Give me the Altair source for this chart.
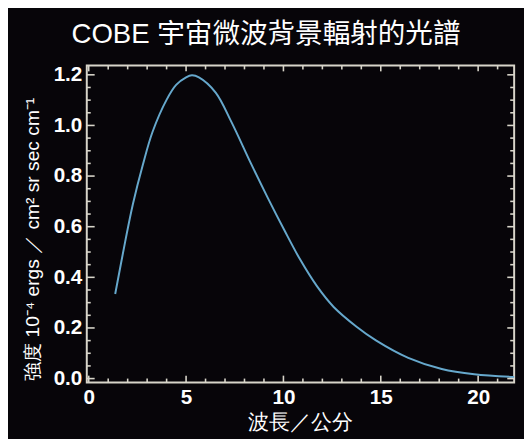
import altair as alt
import pandas as pd

# Values
wavelength = [1.36, 1.87, 2.27, 2.78, 3.28, 3.99, 4.49, 5.0, 5.3, 5.66, 6.52, 7.32,
              8.33, 9.19, 10.05, 10.86, 11.72, 12.58, 13.74, 14.75, 16.41, 18.13,
              19.8, 21.85]
intensity = [0.334, 0.54, 0.69, 0.845, 0.975, 1.10, 1.16, 1.19, 1.198, 1.19, 1.13,
             1.015, 0.85, 0.715, 0.586, 0.47, 0.365, 0.283, 0.206, 0.151, 0.082,
             0.038, 0.017, 0.006]

x_major = [0, 5, 10, 15, 20]
x_minor = [1, 2, 3, 4, 6, 7, 8, 9, 11, 12, 13, 14, 16, 17, 18, 19, 21]
y_major = [0.0, 0.2, 0.4, 0.6, 0.8, 1.0, 1.2]
y_minor = [0.05, 0.1, 0.15, 0.25, 0.3, 0.35, 0.45, 0.5, 0.55, 0.65, 0.7, 0.75,
           0.85, 0.9, 0.95, 1.05, 1.1, 1.15]

title_text = "COBE 宇宙微波背景輻射的光譜"
x_title = "波長／公分"
y_title = "強度 10⁻⁴ ergs ／ cm² sr sec cm⁻¹"

W, H = 434, 322

df = pd.DataFrame({"wl": wavelength, "I": intensity})
dx_major = pd.DataFrame({"v": x_major})
dx_minor = pd.DataFrame({"v": x_minor})
dy_major = pd.DataFrame({"v": y_major})
dy_minor = pd.DataFrame({"v": y_minor})

FRAME = "#d8d5ca"
BG = "#070509"
LINE = "#66a8cc"
FONT = "Liberation Sans, Arial, Noto Sans CJK TC"

xs = alt.Scale(domain=[-0.1, 21.85], nice=False, zero=False)
ys = alt.Scale(domain=[-0.0156, 1.237], nice=False, zero=False)

main = alt.Chart(df).mark_line(color=LINE, strokeWidth=2,
                               interpolate="catmull-rom").encode(
    x=alt.X("wl:Q", scale=xs,
            axis=alt.Axis(values=x_major, ticks=False, domain=False, grid=False,
                          labelPadding=4, labelColor="white", labelFontSize=21,
                          labelFontWeight="bold", title=x_title,
                          titleColor="white", titleFontSize=21,
                          titleFontWeight="normal", titlePadding=5)),
    y=alt.Y("I:Q", scale=ys,
            axis=alt.Axis(values=y_major, format=".1f", ticks=False, domain=False,
                          grid=False, labelPadding=5, labelColor="white",
                          labelFontSize=21, labelFontWeight="bold",
                          title=y_title, titleColor="white",
                          titleFontSize=19.5, titleFontWeight="normal",
                          titleBaseline="alphabetic", titleX=-49, titleY=176)),
)


def xticks(data, y0, y1):
    return alt.Chart(data).mark_rule(color=FRAME, strokeWidth=1.6).encode(
        x=alt.X("v:Q", scale=xs, axis=None),
        y=alt.value(y0), y2=alt.value(y1))


def yticks(data, x0, x1):
    return alt.Chart(data).mark_rule(color=FRAME, strokeWidth=1.6).encode(
        y=alt.Y("v:Q", scale=ys, axis=None),
        x=alt.value(x0), x2=alt.value(x1))


ticks = [
    xticks(dx_major, H, H - 7), xticks(dx_minor, H, H - 4),
    xticks(dx_major, 0, 6), xticks(dx_minor, 0, 4),
    yticks(dy_major, 0, 8), yticks(dy_minor, 0, 4),
    yticks(dy_major, W, W - 7), yticks(dy_minor, W, W - 4),
]

chart = (
    alt.layer(main, *ticks)
    .resolve_axis(x="independent", y="independent")
    .properties(
        width=W,
        height=H,
        autosize=alt.AutoSizeParams(type="none"),
        padding={"left": 80, "top": 55, "right": 10, "bottom": 54},
        background=BG,
        title=alt.TitleParams(title_text, fontSize=28, font=FONT, color="white",
                              fontWeight="normal", frame="group", dx=-35,
                              offset=15),
    )
    .configure_view(stroke=FRAME, strokeWidth=2)
)

chart.save("out.html", embed_options={"renderer": "svg", "actions": False})
